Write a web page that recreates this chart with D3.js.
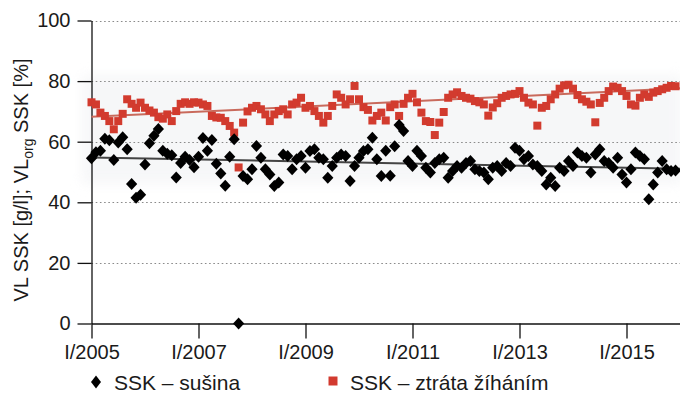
<!DOCTYPE html>
<html>
<head>
<meta charset="utf-8">
<script src="https://cdn.jsdelivr.net/npm/d3@7/dist/d3.min.js"></script>
<style>
  html, body { margin: 0; padding: 0; background: #fff; }
  svg { display: block; font-family: "Liberation Sans", Arial, Helvetica, sans-serif; }
</style>
</head>
<body>
<svg id="chart" width="680" height="396"></svg>
<script>
// Monthly samples, January 2005 – December 2015
const startYear = 2005;
const years = 11;

// SSK – sušina [g/l]
const drySolids = [
  54.5, 56.5, 57, 61, 60.5, 54, 59.7, 61.5, 57.5, 46, 41.5, 42.5,
  52.5, 59.5, 62, 64.2, 57, 56, 55.5, 48.2, 53, 55, 54, 51.6,
  55, 61.2, 57, 60.6, 52.7, 49.5, 45.5, 55, 60.8, 0, 48.7, 47.6,
  50.9, 58.6, 54.7, 50.9, 49.2, 45.4, 46.5, 55.8, 55.3, 50.9, 54.2, 55.3,
  51.4, 56.9, 57.5, 54.7, 54.2, 48.1, 52, 54.7, 55.8, 55.3, 47, 52,
  54.7, 56.9, 57.5, 61.3, 54.2, 48.7, 57, 48.8, 58.5, 65.5, 63.5, 53.6,
  52, 57, 55.3, 51.4, 49.8, 53, 54.2, 54.7, 48.1, 50.3, 52, 51.4,
  53, 53.6, 50.9, 50.3, 49.8, 47.6, 51.4, 52, 50.3, 53, 52, 58,
  57, 54.2, 55.3, 52.5, 52, 50.3, 45.9, 48.1, 45.4, 51.4, 50.3, 53.6,
  52, 56.4, 55.3, 54.7, 49.8, 55.8, 57.5, 53.6, 53, 51.4, 54.7, 49.2,
  46.5, 50.9, 56.4, 55.3, 54.2, 41, 45.9, 49.8, 53.6, 50.9, 50.3, 50.5
];

// SSK – ztráta žíháním [%]
const ignitionLoss = [
  73, 72.3, 69.6, 68.5, 66.8, 64.1, 66.8, 69.2, 74, 72.5, 71.2, 72.9,
  71.2, 70.3, 69.6, 68.1, 67.6, 69, 66.8, 70.1, 72.5, 73, 72.5, 73,
  72.9, 72.3, 71.8, 68.5, 68, 67.9, 66.8, 65.2, 63, 51.5, 66.3, 70,
  71.2, 71.8, 70.7, 69, 66.8, 69, 70.1, 70.7, 69, 72.3, 72.9, 74.5,
  71.2, 71.8, 70.1, 68.5, 66.3, 68.5, 71.8, 75.6, 74.5, 72.3, 74, 78.4,
  74, 71.4, 70.5, 67, 68.5, 69.6, 67, 71.4, 72.3, 68.5, 72.5, 74.5,
  75.8, 73, 69.6, 66.8, 66.5, 62.2, 66.3, 69.8, 74.5, 75.6, 76.3, 75.1,
  74.5, 74.2, 73.4, 73, 72.3, 68.6, 71.3, 72.7, 74.5, 75.1, 75.6, 75.8,
  76.7, 74.5, 72.9, 72.3, 65.3, 71.2, 71.8, 74, 75.6, 77.5, 78.6, 78.8,
  77.5, 75.4, 74, 73.2, 72.3, 66.4, 72.8, 74.5, 76.7, 78.2, 77.8, 76.7,
  75.1, 72.3, 71.9, 74.5, 75.6, 74.8, 76.2, 76.7, 77.3, 77.8, 78.4, 78.3
];

// Linear trend end values (at 2005.0 and 2016.0)
const dryTrend = [54.8, 51.1];
const ignitionTrend = [68.2, 77.6];

const yTicks = [0, 20, 40, 60, 80, 100];
const xTicks = [2005, 2007, 2009, 2011, 2013, 2015];
const xTickLabel = y => "I/" + y;
const seriesNames = ["SSK – sušina", "SSK – ztráta žíháním"];

const months = d3.range(years * 12).map(i => startYear + i / 12);

const svg = d3.select("#chart");
const x = d3.scaleLinear().domain([2005, 2016]).range([91.5, 680]);
const y = d3.scaleLinear().domain([0, 100]).range([323.5, 20.5]);

const red = "#d23a2f";
const font = 20;
const ink = "#1a1a1a";

const defs = svg.append("defs");
defs.append("filter").attr("id", "haze").attr("x", "-20%").attr("y", "-50%")
  .attr("width", "140%").attr("height", "200%")
  .append("feGaussianBlur").attr("stdDeviation", 6);
defs.append("filter").attr("id", "soft")
  .append("feGaussianBlur").attr("stdDeviation", 0.45);

// faint shading behind the data cloud
svg.append("rect")
  .attr("x", 82).attr("y", y(82))
  .attr("width", 600).attr("height", y(46) - y(82))
  .attr("fill", "#f1f2f4").attr("opacity", 0.6)
  .attr("filter", "url(#haze)");

// dotted gridlines
svg.append("g").selectAll("line")
  .data(yTicks.filter(d => d > 0))
  .join("line")
  .attr("x1", x(2005)).attr("x2", 680)
  .attr("y1", d => Math.round(y(d)) + 0.5).attr("y2", d => Math.round(y(d)) + 0.5)
  .attr("stroke", "#8a8a8a").attr("stroke-width", 1.1)
  .attr("stroke-dasharray", "1.6,2.6");

// y axis
const yAxis = svg.append("g")
  .attr("transform", `translate(${x(2005)},0)`)
  .call(d3.axisLeft(y).tickValues(yTicks).tickSize(14).tickPadding(7).tickSizeOuter(0));
yAxis.select(".domain").attr("stroke", "#111").attr("stroke-width", 1.3);
yAxis.selectAll(".tick line").attr("stroke", "#111").attr("stroke-width", 1.3);
yAxis.selectAll(".tick text")
  .attr("font-size", font).attr("fill", ink)
  .attr("font-family", "Liberation Sans, Arial, sans-serif");

// x axis
const xAxis = svg.append("g")
  .attr("transform", `translate(0,${y(0)})`)
  .call(d3.axisBottom(x).tickValues(xTicks).tickFormat(xTickLabel)
    .tickSize(15).tickPadding(6).tickSizeOuter(0));
xAxis.select(".domain").attr("stroke", "#111").attr("stroke-width", 1.3);
xAxis.selectAll(".tick line").attr("stroke", "#111").attr("stroke-width", 1.3);
xAxis.selectAll(".tick text")
  .attr("font-size", font).attr("fill", ink)
  .attr("font-family", "Liberation Sans, Arial, sans-serif");

// y axis title with subscript
const title = svg.append("text")
  .attr("transform", `translate(28,${180}) rotate(-90)`)
  .attr("text-anchor", "middle")
  .attr("font-size", font).attr("fill", ink);
title.append("tspan").text("VL SSK [g/l]; VL");
title.append("tspan").attr("font-size", 14).attr("dy", 5).text("org");
title.append("tspan").attr("dy", -5).text(" SSK [%]");

// marker shapes
const diamond = (hw, hh) => `M0,${-hh}L${hw},0L0,${hh}L${-hw},0Z`;
const square = s => `M${-s / 2},${-s / 2}h${s}v${s}h${-s}Z`;

// trend lines
const trendLine = d3.line().x(d => x(d[0])).y(d => y(d[1]));
svg.append("path")
  .attr("d", trendLine([[2005, ignitionTrend[0]], [2016, ignitionTrend[1]]]))
  .attr("stroke", "#c96a5c").attr("stroke-width", 2).attr("fill", "none");

// red series
svg.append("g").attr("filter", "url(#soft)")
  .selectAll("path")
  .data(ignitionLoss)
  .join("path")
  .attr("transform", (d, i) => `translate(${x(months[i])},${y(d)})`)
  .attr("d", square(8))
  .attr("fill", red);

svg.append("path")
  .attr("d", trendLine([[2005, dryTrend[0]], [2016, dryTrend[1]]]))
  .attr("stroke", "#444").attr("stroke-width", 2).attr("fill", "none");

// black series
svg.append("g").attr("filter", "url(#soft)")
  .selectAll("path")
  .data(drySolids)
  .join("path")
  .attr("transform", (d, i) => `translate(${x(months[i])},${y(d)})`)
  .attr("d", diamond(5.6, 6))
  .attr("fill", "#000");

// legend
const legendFont = 21;
const legend = svg.append("g");
legend.append("path").attr("transform", "translate(96,382)")
  .attr("d", diamond(5, 6.5)).attr("fill", "#000");
legend.append("text").attr("x", 114).attr("y", 389.5)
  .attr("font-size", legendFont).attr("fill", ink).text(seriesNames[0]);
legend.append("path").attr("transform", "translate(333,381)")
  .attr("d", square(9)).attr("fill", red);
legend.append("text").attr("x", 350).attr("y", 389.5)
  .attr("font-size", legendFont).attr("fill", ink).text(seriesNames[1]);
</script>
</body>
</html>
